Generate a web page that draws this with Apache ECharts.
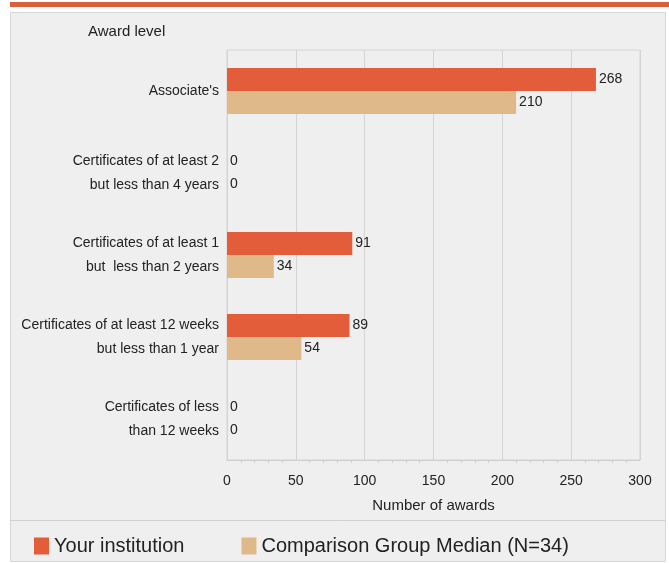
<!DOCTYPE html>
<html><head><meta charset="utf-8">
<script src="https://cdn.jsdelivr.net/npm/echarts@6/dist/echarts.min.js"></script>
<style>html,body{margin:0;padding:0;background:#fff}#c{width:669px;height:563px}</style>
</head><body><div id="c"></div>
<script>
const categories = [
  "Associate's",
  "Certificates of at least 2\nbut less than 4 years",
  "Certificates of at least 1\nbut  less than 2 years",
  "Certificates of at least 12 weeks\nbut less than 1 year",
  "Certificates of less\nthan 12 weeks"
];
const yourInstitution = [268, 0, 91, 89, 0];
const comparisonMedian = [210, 0, 34, 54, 0];
const xTicks = [0, 50, 100, 150, 200, 250, 300];
const seriesNames = ["Your institution", "Comparison Group Median (N=34)"];

const FONT = "'Liberation Sans Narrow','Liberation Sans',Arial,sans-serif";
const chart = echarts.init(document.getElementById('c'));
chart.setOption({
  backgroundColor: '#fff',
  animation: false,
  textStyle: { fontFamily: FONT },
  graphic: [
    { type: 'rect', z: -10, shape: { x: 10.5, y: 12.5, width: 655, height: 549 }, style: { fill: '#efefef', stroke: '#d6d6d6', lineWidth: 1 } },
    { type: 'line', z: -9, shape: { x1: 10, y1: 520.5, x2: 665, y2: 520.5 }, style: { stroke: '#d0d0d0', lineWidth: 1 } },
    { type: 'rect', z: -9, shape: { x: 10, y: 2, width: 659, height: 5 }, style: { fill: '#d9603a' } },
    { type: 'text', left: 88, top: 24, style: { text: 'Award level', font: "15px " + FONT, fill: '#222' } }
  ],
  legend: {
    data: seriesNames,
    left: 29, top: 531,
    itemWidth: 15, itemHeight: 17, itemGap: 57,
    icon: 'rect',
    textStyle: { fontSize: 20, color: '#222', fontFamily: FONT }
  },
  grid: { left: 227, right: 29, top: 50, bottom: 103, show: true, borderColor: '#d4d4d4', borderWidth: 1 },
  xAxis: {
    type: 'value', min: 0, max: 300, interval: 50,
    name: 'Number of awards', nameLocation: 'middle', nameGap: 38,
    nameTextStyle: { fontSize: 15, color: '#222', fontFamily: FONT },
    axisLine: { show: true, lineStyle: { color: '#cfcfcf' } },
    axisTick: { show: false },
    minorTick: { show: true, splitNumber: 5, length: 3, lineStyle: { color: '#cfcfcf' } },
    axisLabel: { fontSize: 14, color: '#222', margin: 14, fontFamily: FONT,
      formatter: v => xTicks.includes(v) ? String(v) : '' },
    splitLine: { show: true, lineStyle: { color: '#d4d4d4' } }
  },
  yAxis: {
    type: 'category', data: categories, inverse: true,
    axisLine: { show: false }, axisTick: { show: false },
    axisLabel: { fontSize: 14, color: '#222', margin: 8, lineHeight: 24, align: 'right', fontFamily: FONT },
    splitLine: { show: false }
  },
  series: [
    { name: seriesNames[0], type: 'bar', data: yourInstitution, barGap: '0%', barCategoryGap: '44%',
      itemStyle: { color: '#e35d3a' },
      label: { show: true, position: 'right', distance: 3, fontSize: 14, color: '#222', fontFamily: FONT } },
    { name: seriesNames[1], type: 'bar', data: comparisonMedian,
      itemStyle: { color: '#dfb98a' },
      label: { show: true, position: 'right', distance: 3, fontSize: 14, color: '#222', fontFamily: FONT } }
  ]
});
</script></body></html>
